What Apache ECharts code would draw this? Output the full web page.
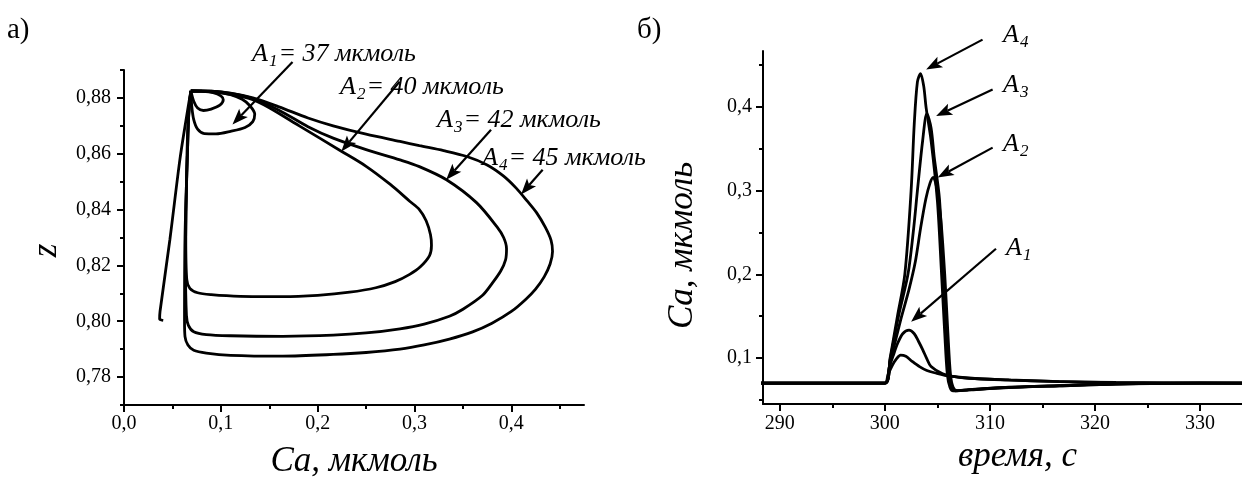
<!DOCTYPE html>
<html>
<head>
<meta charset="utf-8">
<script src="https://cdn.jsdelivr.net/npm/echarts@6/dist/echarts.min.js"></script>
<style>
html, body { margin: 0; padding: 0; background: #fff; }
#chart { width: 1242px; height: 479px; }
</style>
</head>
<body>
<div id="chart"></div>
<script>
// ---------- panel (а): phase trajectories, [Ca, z] ----------
const approachPath = [[0.0405, 0.8003], [0.0368, 0.8008], [0.0372, 0.8035], [0.0474, 0.8293], [0.0577, 0.8579], [0.0646, 0.8733], [0.069, 0.8825]];
const phaseA0 = [[0.069, 0.8825], [0.080, 0.8824], [0.092, 0.8819], [0.100, 0.8807], [0.1025, 0.8793], [0.099, 0.8774], [0.090, 0.8760], [0.082, 0.8755], [0.076, 0.8764], [0.072, 0.8788], [0.069, 0.8825]];
const phaseA1 = [[0.069, 0.8825], [0.090, 0.8823], [0.110, 0.8812], [0.122, 0.8795], [0.130, 0.8772], [0.135, 0.8742], [0.133, 0.8715], [0.125, 0.8694], [0.110, 0.8680], [0.095, 0.8671], [0.083, 0.8672], [0.076, 0.8688], [0.072, 0.8722], [0.070, 0.8770], [0.069, 0.8825]];
const phaseA2 = [[0.069, 0.8825], [0.090, 0.8823], [0.110, 0.8813], [0.133, 0.8794], [0.150, 0.8765], [0.181, 0.8700], [0.224, 0.8610], [0.250, 0.8555], [0.275, 0.8490], [0.295, 0.8430], [0.305, 0.8400], [0.312, 0.8360], [0.3165, 0.8310], [0.3175, 0.8272], [0.3155, 0.8235], [0.306, 0.8195], [0.295, 0.8168], [0.280, 0.8142], [0.260, 0.8120], [0.233, 0.8104], [0.200, 0.8093], [0.164, 0.8088], [0.120, 0.8089], [0.090, 0.8095], [0.076, 0.8102], [0.068, 0.8118], [0.0648, 0.8150], [0.0638, 0.8300], [0.0645, 0.8500], [0.0660, 0.8700], [0.069, 0.8825]];
const phaseA3 = [[0.069, 0.8825], [0.090, 0.8824], [0.110, 0.8816], [0.133, 0.8798], [0.160, 0.8756], [0.190, 0.8697], [0.216, 0.8656], [0.250, 0.8615], [0.285, 0.8578], [0.305, 0.8554], [0.333, 0.8507], [0.364, 0.8425], [0.385, 0.8339], [0.392, 0.8300], [0.395, 0.8260], [0.394, 0.8220], [0.389, 0.8180], [0.380, 0.8135], [0.370, 0.8092], [0.350, 0.8043], [0.336, 0.8018], [0.310, 0.7990], [0.285, 0.7973], [0.250, 0.7958], [0.216, 0.7950], [0.164, 0.7946], [0.110, 0.7948], [0.085, 0.7952], [0.072, 0.7962], [0.0665, 0.7985], [0.0645, 0.8020], [0.0635, 0.8200], [0.0640, 0.8400], [0.0655, 0.8600], [0.0670, 0.8750], [0.069, 0.8825]];
const phaseA4 = [[0.069, 0.8825], [0.090, 0.8824], [0.110, 0.8817], [0.133, 0.8800], [0.160, 0.8768], [0.190, 0.8728], [0.216, 0.8700], [0.250, 0.8670], [0.285, 0.8644], [0.305, 0.8629], [0.330, 0.8611], [0.354, 0.8590], [0.375, 0.8560], [0.392, 0.8520], [0.405, 0.8477], [0.416, 0.8432], [0.426, 0.8389], [0.435, 0.8337], [0.441, 0.8290], [0.4425, 0.8250], [0.440, 0.8205], [0.434, 0.8160], [0.425, 0.8115], [0.415, 0.8079], [0.400, 0.8035], [0.380, 0.7993], [0.360, 0.7962], [0.336, 0.7936], [0.310, 0.7915], [0.285, 0.7900], [0.250, 0.7888], [0.216, 0.7881], [0.164, 0.7875], [0.110, 0.7878], [0.085, 0.7886], [0.072, 0.7896], [0.0660, 0.7915], [0.0630, 0.7945], [0.0625, 0.8000], [0.0630, 0.8300], [0.0655, 0.8600], [0.0670, 0.8750], [0.069, 0.8825]];

// ---------- panel (б): Ca(t), [t, Ca] ----------
const caA0 = [[288, 0.07], [300, 0.07], [300.3, 0.080], [300.7, 0.091], [301.1, 0.099], [301.5, 0.1035], [302.0, 0.102], [302.6, 0.096], [303.3, 0.0897], [304.0, 0.0850], [304.9, 0.0818], [306.0, 0.0785], [307.1, 0.0770], [309.0, 0.0752], [312.0, 0.0735], [316.6, 0.0718], [322.0, 0.0706], [334, 0.07]];
const caA1 = [[288, 0.07], [300, 0.07], [300.4, 0.088], [300.8, 0.103], [301.2, 0.117], [301.7, 0.129], [302.3, 0.1333], [302.8, 0.129], [303.2, 0.120], [303.6, 0.110], [304.0, 0.099], [304.4, 0.0897], [305.5, 0.0810], [306.5, 0.0780], [308.0, 0.0758], [311.8, 0.0738], [316.0, 0.0720], [322.0, 0.0707], [334, 0.07]];
const caA2 = [[288, 0.07], [300, 0.07], [300.5, 0.096], [301.0, 0.120], [301.6, 0.150], [302.3, 0.182], [302.9, 0.215], [303.4, 0.255], [303.9, 0.290], [304.3, 0.309], [304.6, 0.316], [304.9, 0.306], [305.3, 0.270], [305.7, 0.200], [306.0, 0.130], [306.25, 0.080], [306.5, 0.065], [306.9, 0.0610], [308.0, 0.0622], [311.8, 0.0650], [316.6, 0.0670], [322.0, 0.0690], [330.0, 0.0700], [334, 0.07]];
const caA3 = [[288, 0.07], [300, 0.07], [300.5, 0.098], [301.3, 0.150], [302.2, 0.200], [302.7, 0.250], [303.1, 0.300], [303.6, 0.360], [304.0, 0.392], [304.4, 0.375], [304.7, 0.340], [305.2, 0.290], [305.55, 0.200], [305.85, 0.130], [306.1, 0.080], [306.35, 0.065], [306.7, 0.0608], [308.0, 0.0620], [311.8, 0.0648], [316.6, 0.0668], [322.0, 0.0689], [330.0, 0.0700], [334, 0.07]];
const caA4 = [[288, 0.07], [300, 0.07], [300.5, 0.100], [301.2, 0.150], [301.9, 0.200], [302.5, 0.300], [302.8, 0.380], [303.1, 0.430], [303.4, 0.440], [303.7, 0.425], [303.93, 0.399], [304.4, 0.360], [305.0, 0.288], [305.4, 0.200], [305.7, 0.130], [305.95, 0.080], [306.2, 0.065], [306.5, 0.0606], [308.0, 0.0618], [311.8, 0.0646], [316.6, 0.0666], [322.0, 0.0688], [330.0, 0.0700], [334, 0.07]];

// ---------- ticks ----------
const phaseXTicks = [0, 0.1, 0.2, 0.3, 0.4];
const phaseXMinor = [0.05, 0.15, 0.25, 0.35, 0.45];
const phaseYTicks = [0.78, 0.80, 0.82, 0.84, 0.86, 0.88];
const phaseYMinor = [0.77, 0.79, 0.81, 0.83, 0.85, 0.87, 0.89];
const timeTicks = [290, 300, 310, 320, 330];
const timeMinor = [295, 305, 315, 325];
const caTicks = [0.1, 0.2, 0.3, 0.4];
const caMinor = [0.05, 0.15, 0.25, 0.35, 0.45];

// amplitudes of the stimulus, мкмоль
const amplitudes = ['37', '40', '42', '45'];

const SERIF = '"Liberation Serif", "DejaVu Serif", serif';
const INK = '#000';
const TICK_FONT = 20;

function comma(digits) {
  return v => v.toFixed(digits).replace('.', ',');
}

function tickLabels(ticks, digits, margin) {
  return { show: true, customValues: ticks, formatter: comma(digits),
    fontFamily: SERIF, fontSize: TICK_FONT, color: INK, margin };
}

function majorAxis(gridIndex, min, max, ticks, digits, extra) {
  return Object.assign({
    type: 'value', gridIndex, min, max,
    axisLine: { show: true, onZero: false, lineStyle: { color: INK, width: 2 } },
    axisTick: { show: true, length: 7, customValues: ticks, lineStyle: { color: INK, width: 2 } },
    axisLabel: tickLabels(ticks, digits, 10),
    splitLine: { show: false }
  }, extra);
}

function minorAxis(gridIndex, min, max, ticks, position) {
  return {
    type: 'value', gridIndex, min, max, position,
    axisLine: { show: false, onZero: false },
    axisTick: { show: true, length: 4, customValues: ticks, lineStyle: { color: INK, width: 2 } },
    axisLabel: { show: false },
    splitLine: { show: false }
  };
}

const lineBase = { type: 'line', showSymbol: false, smooth: 0.3, clip: true,
  lineStyle: { color: INK, width: 2.8 }, itemStyle: { color: INK }, silent: true, z: 3 };

function curve(name, data, axis) {
  return Object.assign({}, lineBase, { name, data, xAxisIndex: axis, yAxisIndex: axis });
}

const axisTitle = { fontFamily: SERIF, fontStyle: 'italic', fontSize: 35, color: INK };

const option = {
  animation: false,
  backgroundColor: '#fff',
  grid: [
    { left: 124, top: 70, width: 460, height: 335, outerBoundsMode: 'none', containLabel: false },
    { left: 763, top: 51, width: 479, height: 353, outerBoundsMode: 'none', containLabel: false }
  ],
  xAxis: [
    majorAxis(0, 0, 0.475, phaseXTicks, 1, {
      position: 'bottom', name: 'Ca, мкмоль', nameLocation: 'middle', nameGap: 39,
      nameTextStyle: axisTitle, axisLabel: tickLabels(phaseXTicks, 1, 9)
    }),
    minorAxis(0, 0, 0.475, phaseXMinor, 'bottom'),
    majorAxis(1, 288.4, 334, timeTicks, 0, {
      position: 'bottom', name: 'время, с', nameLocation: 'middle', nameGap: 34,
      nameTextStyle: Object.assign({ padding: [0, 0, 0, 30] }, axisTitle),
      axisLabel: tickLabels(timeTicks, 0, 10)
    }),
    minorAxis(1, 288.4, 334, timeMinor, 'bottom')
  ],
  yAxis: [
    majorAxis(0, 0.77, 0.89, phaseYTicks, 2, {
      position: 'left', name: 'z', nameLocation: 'middle', nameGap: 60, nameRotate: 90,
      nameTextStyle: Object.assign({ padding: [0, 26, 0, 0] }, axisTitle),
      axisLabel: tickLabels(phaseYTicks, 2, 13)
    }),
    minorAxis(0, 0.77, 0.89, phaseYMinor, 'left'),
    majorAxis(1, 0.045, 0.467, caTicks, 1, {
      position: 'left', name: 'Ca, мкмоль', nameLocation: 'middle', nameGap: 63, nameRotate: 90,
      nameTextStyle: Object.assign({ padding: [0, 36, 0, 0] }, axisTitle),
      axisLabel: tickLabels(caTicks, 1, 11)
    }),
    minorAxis(1, 0.045, 0.467, caMinor, 'left')
  ],
  series: [
    curve('approach', approachPath, 0),
    curve('phase A0', phaseA0, 0),
    curve('phase A1', phaseA1, 0),
    curve('phase A2', phaseA2, 0),
    curve('phase A3', phaseA3, 0),
    curve('phase A4', phaseA4, 0),
    curve('Ca A0', caA0, 2),
    curve('Ca A1', caA1, 2),
    curve('Ca A2', caA2, 2),
    curve('Ca A3', caA3, 2),
    curve('Ca A4', caA4, 2)
  ]
};

const chart = echarts.init(document.getElementById('chart'), null, { renderer: 'canvas' });
chart.setOption(option);

// ---------- annotations: arrows pointing at the trajectories ----------
// [tail, tip] in data coordinates of each panel
const phaseArrows = [
  [[0.174, 0.8929], [0.112, 0.8705]],
  [[0.2845, 0.8858], [0.2244, 0.8608]],
  [[0.379, 0.8686], [0.3327, 0.8507]],
  [[0.4323, 0.8543], [0.410, 0.8454]]
];
const timeArrows = [
  [[310.58, 0.2306], [302.5, 0.1432]],
  [[310.26, 0.3515], [305.03, 0.3158]],
  [[310.26, 0.4210], [304.88, 0.3893]],
  [[309.30, 0.4806], [303.93, 0.4449]]
];

function arrowShapes(p0, p1) {
  const dx = p1[0] - p0[0], dy = p1[1] - p0[1];
  const len = Math.hypot(dx, dy);
  const ux = dx / len, uy = dy / len;
  const headLen = 16, headHalf = 6, notch = 3.5;
  const bx = p1[0] - ux * headLen, by = p1[1] - uy * headLen;
  return [
    { type: 'line', silent: true, z: 10,
      shape: { x1: p0[0], y1: p0[1], x2: bx + ux * notch, y2: by + uy * notch },
      style: { stroke: INK, lineWidth: 2.2 } },
    { type: 'polygon', silent: true, z: 10,
      shape: { points: [p1, [bx - uy * headHalf, by + ux * headHalf], [bx + ux * notch, by + uy * notch], [bx + uy * headHalf, by - ux * headHalf]] },
      style: { fill: INK } }
  ];
}

const richBig = {
  a: { fontFamily: SERIF, fontStyle: 'italic', fontSize: 26, color: INK },
  s: { fontFamily: SERIF, fontStyle: 'italic', fontSize: 17, color: INK, padding: [15, 1, 0, 1] }
};

function labelText(x, y, text) {
  return { type: 'text', silent: true, z: 10, x, y,
    style: { text, rich: richBig, verticalAlign: 'middle', align: 'left' } };
}

const graphics = [];
phaseArrows.forEach(([a, b]) => {
  graphics.push(...arrowShapes(chart.convertToPixel({ gridIndex: 0 }, a), chart.convertToPixel({ gridIndex: 0 }, b)));
});
timeArrows.forEach(([a, b]) => {
  graphics.push(...arrowShapes(chart.convertToPixel({ gridIndex: 1 }, a), chart.convertToPixel({ gridIndex: 1 }, b)));
});

// labels of the phase trajectories
const phaseLabelPos = [[252, 54], [340, 87], [437, 120], [482, 158]];
amplitudes.forEach((amp, i) => {
  const [x, y] = phaseLabelPos[i];
  graphics.push(labelText(x, y, '{a|A}{s|' + (i + 1) + '}{a|= ' + amp + ' мкмоль}'));
});
// labels of the time courses
const timeLabelPos = [[1006, 248], [1003, 144], [1003, 85], [1003, 35]];
amplitudes.forEach((amp, i) => {
  const [x, y] = timeLabelPos[i];
  graphics.push(labelText(x, y, '{a|A}{s|' + (i + 1) + '}'));
});

// panel letters
graphics.push({ type: 'text', silent: true, x: 7, y: 30,
  style: { text: 'а)', fontFamily: SERIF, fontSize: 29, fill: INK, verticalAlign: 'middle' } });
graphics.push({ type: 'text', silent: true, x: 637, y: 30,
  style: { text: 'б)', fontFamily: SERIF, fontSize: 29, fill: INK, verticalAlign: 'middle' } });

chart.setOption({ graphic: graphics });
</script>
</body>
</html>
